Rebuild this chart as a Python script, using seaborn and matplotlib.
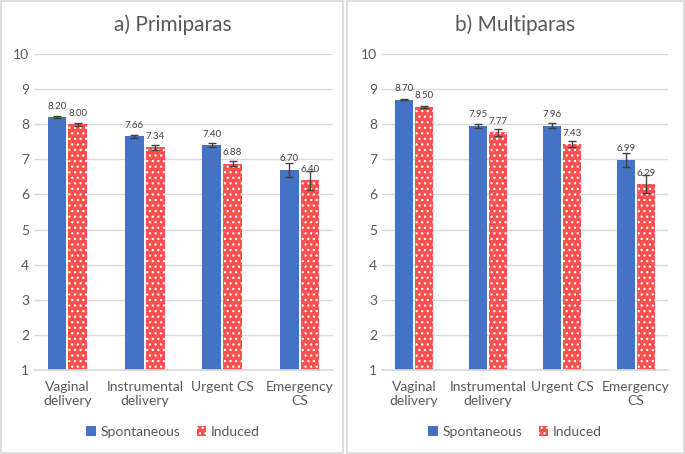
import matplotlib
matplotlib.use("Agg")
import matplotlib.pyplot as plt
import matplotlib.patches as mpatches
import numpy as np
import pandas as pd
import seaborn as sns

# ---- data ----
categories = ["Vaginal\ndelivery", "Instrumental\ndelivery", "Urgent CS", "Emergency\nCS"]
groups = ["Spontaneous", "Induced"]

prim_spont = [8.20, 7.66, 7.40, 6.70]
prim_induced = [8.00, 7.34, 6.88, 6.40]
prim_spont_err = [0.02, 0.04, 0.06, 0.20]
prim_induced_err = [0.04, 0.06, 0.06, 0.28]

multi_spont = [8.70, 7.95, 7.96, 6.99]
multi_induced = [8.50, 7.77, 7.43, 6.29]
multi_spont_err = [0.01, 0.06, 0.07, 0.20]
multi_induced_err = [0.03, 0.10, 0.08, 0.26]

titles = ["a) Primiparas", "b) Multiparas"]

blue = "#4472C4"
red = "#FF4F4F"
grey_txt = "#595959"
grid_col = "#D9D9D9"

sns.set_theme(style="white")
plt.rcParams["font.family"] = ["Lato", "DejaVu Sans"]
plt.rcParams["hatch.color"] = "white"
plt.rcParams["hatch.linewidth"] = 0.9

fig = plt.figure(figsize=(6.85, 4.54), dpi=100)

# panel frames (pixel boxes converted to figure fraction)
W, H = 685, 454
for x0, x1 in [(1, 343), (347, 684)]:
    fig.patches.append(mpatches.Rectangle((x0 / W, 1 / H), (x1 - x0) / W, (H - 2) / H,
                                          transform=fig.transFigure, fill=False,
                                          edgecolor=grid_col, linewidth=1.2))

axes_pos = [[34 / W, 84 / H, 299 / W, 316 / H],
            [382 / W, 84 / H, 286 / W, 316 / H]]
panel_centers = [173 / W, 515 / W]

panels = [(prim_spont, prim_induced, prim_spont_err, prim_induced_err),
          (multi_spont, multi_induced, multi_spont_err, multi_induced_err)]

for i, (sp, ind, sp_e, ind_e) in enumerate(panels):
    ax = fig.add_axes(axes_pos[i])
    df = pd.DataFrame({
        "cat": categories * 2,
        "group": [groups[0]] * 4 + [groups[1]] * 4,
        "val": sp + ind,
    })
    sns.barplot(data=df, x="cat", y="val", hue="group", palette=[blue, red],
                width=0.54, gap=0.1, ax=ax, legend=True, saturation=1)
    errs = sp_e + ind_e
    vals = sp + ind
    bars = [p for p in ax.patches if isinstance(p, mpatches.Rectangle) and p.get_height() > 0][:8]
    for j, b in enumerate(bars):
        if j >= 4:
            b.set_hatch("...")
            b.set_edgecolor("white")
            b.set_linewidth(0)
        else:
            b.set_edgecolor("none")
        cx = b.get_x() + b.get_width() / 2
        ax.errorbar(cx, vals[j], yerr=errs[j], color="#404040", capsize=3,
                    elinewidth=1, capthick=1)
        ax.annotate(f"{vals[j]:.2f}", (cx, vals[j]), xytext=(0, 8),
                    textcoords="offset points", ha="center", va="center",
                    fontsize=7, color="#404040")
    ax.set_ylim(1, 10)
    ax.set_yticks(range(1, 11))
    ax.yaxis.grid(True, color=grid_col, linewidth=1)
    ax.set_axisbelow(True)
    for s in ["left", "right", "top"]:
        ax.spines[s].set_visible(False)
    ax.spines["bottom"].set_color(grid_col)
    ax.set_xlabel("")
    ax.set_ylabel("")
    ax.tick_params(axis="both", length=0, colors=grey_txt, labelsize=10)
    ax.tick_params(axis="x", pad=8)
    fig.text(panel_centers[i], 1 - 25 / H, titles[i], ha="center", va="center",
             fontsize=15, color=grey_txt)
    handles, labels = ax.get_legend_handles_labels()
    ax.get_legend().remove()
    leg = fig.legend(handles, labels, loc="center", bbox_to_anchor=(panel_centers[i], 22 / H),
                     ncol=2, frameon=False, fontsize=10, handlelength=0.7, handleheight=0.7,
                     handletextpad=0.3, columnspacing=1.2, labelcolor=grey_txt)
    for h in leg.get_patches():
        h.set_edgecolor("white")
        h.set_linewidth(0)
    leg.get_patches()[1].set_hatch("...")

fig.savefig("out.png", dpi=100)
